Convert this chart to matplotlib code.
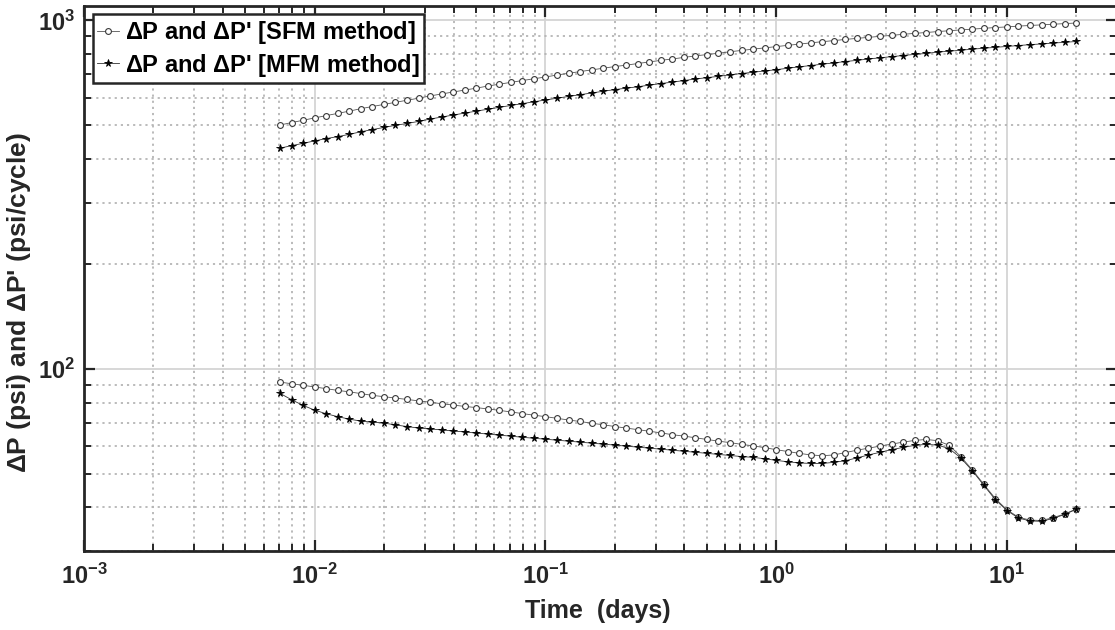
import numpy as np
import matplotlib.pyplot as plt
from matplotlib.ticker import FixedLocator, FixedFormatter, LogLocator, NullFormatter

plt.rcParams['font.family'] = ['Liberation Sans', 'DejaVu Sans']
plt.rcParams['font.weight'] = 'bold'
plt.rcParams['mathtext.fontset'] = 'custom'
plt.rcParams['mathtext.bf'] = 'Liberation Sans:bold'
plt.rcParams['mathtext.rm'] = 'Liberation Sans'

# time samples (log10 of days)
log_t = [-2.15, -2.10, -2.05, -2.00, -1.95, -1.90, -1.85, -1.80, -1.75, -1.70,
         -1.65, -1.60, -1.55, -1.50, -1.45, -1.40, -1.35, -1.30, -1.25, -1.20,
         -1.15, -1.10, -1.05, -1.00, -0.95, -0.90, -0.85, -0.80, -0.75, -0.70,
         -0.65, -0.60, -0.55, -0.50, -0.45, -0.40, -0.35, -0.30, -0.25, -0.20,
         -0.15, -0.10, -0.05, 0.00, 0.05, 0.10, 0.15, 0.20, 0.25, 0.30,
         0.35, 0.40, 0.45, 0.50, 0.55, 0.60, 0.65, 0.70, 0.75, 0.80,
         0.85, 0.90, 0.95, 1.00, 1.05, 1.10, 1.15, 1.20, 1.25, 1.30]

# pressure change, SFM method (psi)
dp_sfm = [501, 509, 517, 525, 533, 541, 549, 558, 566, 574,
          582, 590, 598, 607, 615, 623, 631, 639, 648, 656,
          664, 672, 680, 688, 697, 705, 713, 721, 729, 737,
          744, 752, 760, 768, 775, 783, 791, 798, 805, 813,
          820, 827, 834, 841, 848, 855, 862, 869, 875, 882,
          888, 894, 900, 906, 912, 918, 923, 929, 934, 939,
          944, 949, 954, 958, 963, 967, 971, 975, 979, 983]

# pressure change, MFM method (psi)
dp_mfm = [430, 437, 444, 451, 458, 464, 471, 479, 486, 493,
          500, 506, 513, 521, 528, 535, 542, 549, 556, 563,
          570, 577, 584, 591, 598, 605, 612, 619, 626, 633,
          639, 645, 652, 659, 665, 672, 679, 685, 691, 698,
          704, 710, 716, 722, 729, 736, 742, 749, 755, 762,
          768, 775, 781, 787, 793, 799, 804, 811, 816, 821,
          827, 832, 837, 842, 847, 852, 856, 861, 865, 870]

# derivative, SFM method (psi/cycle)
der_sfm = [91.6, 90.6, 89.7, 88.7, 87.7, 86.7, 85.9, 84.9, 83.9, 83.2,
           82.4, 81.7, 80.9, 80.2, 79.4, 78.7, 78.0, 77.4, 76.7, 76.0,
           75.2, 74.4, 73.6, 72.9, 72.1, 71.3, 70.6, 69.8, 69.1, 68.3,
           67.6, 66.9, 66.2, 65.5, 64.7, 64.1, 63.4, 62.7, 62.0, 61.4,
           60.7, 60.1, 59.4, 58.6, 57.9, 57.2, 56.6, 56.3, 56.6, 57.5,
           58.4, 59.2, 60.0, 60.8, 61.6, 62.3, 62.7, 62.2, 60.3, 56.0,
           51.3, 46.6, 42.4, 39.4, 37.5, 36.8, 36.7, 37.4, 38.3, 39.6]

# derivative, MFM method (psi/cycle)
der_mfm = [85.0, 81.5, 78.5, 76.1, 74.3, 72.9, 71.7, 70.8, 70.3, 69.9,
           69.0, 68.3, 67.6, 67.2, 66.8, 66.3, 65.9, 65.4, 65.0, 64.5,
           64.1, 63.6, 63.2, 62.8, 62.4, 62.0, 61.6, 61.2, 60.8, 60.4,
           60.0, 59.6, 59.2, 58.8, 58.4, 58.0, 57.6, 57.2, 56.8, 56.4,
           56.0, 55.7, 55.2, 54.6, 54.1, 53.7, 53.5, 53.5, 53.9, 54.5,
           55.5, 56.6, 57.6, 58.6, 59.5, 60.3, 60.7, 60.4, 59.0, 55.5,
           51.0, 46.3, 42.1, 39.2, 37.3, 36.6, 36.5, 37.2, 38.2, 39.5]

t = 10 ** np.array(log_t)

fig = plt.figure(figsize=(11.15, 6.3), dpi=100)
ax = fig.add_axes([0.0753, 0.1254, 0.9265, 0.8651])

sfm_style = dict(color='#555555', lw=0.6, marker='o', ms=4.2, mfc='white',
                 mec='#3a3a3a', mew=0.8)
mfm_style = dict(color='#333333', lw=0.6, marker='*', ms=5.5, mfc='black',
                 mec='black', mew=0.6)

ax.loglog(t, dp_sfm, label=r"$\Delta$P and $\Delta$P' [SFM method]", **sfm_style)
ax.loglog(t, dp_mfm, label=r"$\Delta$P and $\Delta$P' [MFM method]", **mfm_style)
ax.loglog(t, der_sfm, **sfm_style)
ax.loglog(t, der_mfm, **mfm_style)

ax.set_xlim(1e-3, 30)
ax.set_ylim(30, 1100)

xt = [1e-3, 1e-2, 1e-1, 1e0, 1e1]
xl = [r'$\mathbf{10^{-3}}$', r'$\mathbf{10^{-2}}$', r'$\mathbf{10^{-1}}$',
      r'$\mathbf{10^{0}}$', r'$\mathbf{10^{1}}$']
yt = [1e2, 1e3]
yl = [r'$\mathbf{10^{2}}$', r'$\mathbf{10^{3}}$']
ax.xaxis.set_major_locator(FixedLocator(xt))
ax.xaxis.set_major_formatter(FixedFormatter(xl))
ax.yaxis.set_major_locator(FixedLocator(yt))
ax.yaxis.set_major_formatter(FixedFormatter(yl))
ax.xaxis.set_minor_locator(LogLocator(base=10, subs=np.arange(2, 10), numticks=20))
ax.yaxis.set_minor_locator(LogLocator(base=10, subs=np.arange(2, 10), numticks=20))
ax.xaxis.set_minor_formatter(NullFormatter())
ax.yaxis.set_minor_formatter(NullFormatter())

ax.grid(True, which='major', color='#d4d4d4', lw=1.3, ls='-')
ax.grid(True, which='minor', color='#b5b5b5', lw=1.3, ls=(0, (1.2, 2.2)))
ax.set_axisbelow(True)

ax.tick_params(which='both', direction='in', top=True, right=True,
               colors='#262626', labelsize=17)
ax.tick_params(which='major', length=8, width=1.6)
ax.tick_params(which='minor', length=5, width=1.4)
ax.tick_params(axis='x', which='major', pad=9)
ax.tick_params(axis='y', which='major', pad=6)
for s in ax.spines.values():
    s.set_linewidth(2)
    s.set_color('#262626')

ax.set_xlabel('Time  (days)', fontsize=18, fontweight='bold', color='#262626')
ax.set_ylabel(r"$\Delta$P (psi) and $\Delta$P' (psi/cycle)", fontsize=19,
              fontweight='bold', color='#262626')
ax.xaxis.set_label_coords(0.497, -0.088)
ax.yaxis.set_label_coords(-0.049, 0.455)

leg = ax.legend(loc='upper left', bbox_to_anchor=(0.0085, 0.985), fontsize=17,
                frameon=True, fancybox=False, framealpha=1, edgecolor='#262626',
                handlelength=0.9, handletextpad=0.25, borderpad=0.2,
                labelspacing=0.24, borderaxespad=0)
leg.get_frame().set_linewidth(1.8)
for txt in leg.get_texts():
    txt.set_fontweight('bold')

fig.savefig('out.png', dpi=100)
